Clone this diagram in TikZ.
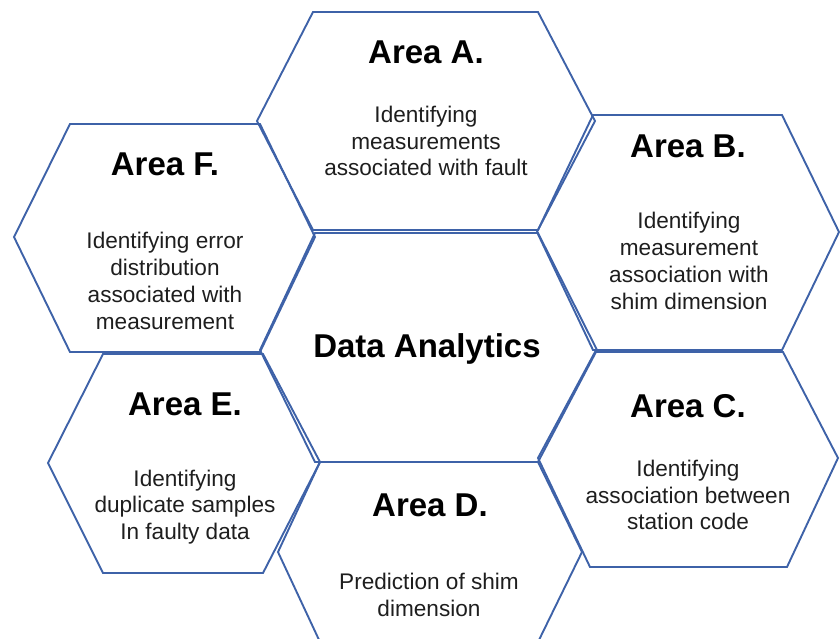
\documentclass[tikz,border=0pt]{standalone}
\usepackage{fontspec}
\setmainfont{Liberation Sans}
\definecolor{hexblue}{RGB}{62,98,168}
\definecolor{txt}{RGB}{30,30,30}
\begin{document}
\begin{tikzpicture}[x=1pt,y=-1pt,
  hexline/.style={draw=hexblue,line width=1.9pt,line join=miter},
  head/.style={font=\fontsize{33}{38}\selectfont\bfseries,text=black,inner sep=0pt},
  body/.style={font=\fontsize{22.6}{26.8}\selectfont,text=txt,align=center,inner sep=0pt}]
\useasboundingbox (0,0) rectangle (840,638);
\begin{scope}
\clip (0,0) rectangle (840,638);
% Area A
\draw[hexline] (313,12) -- (538,12) -- (595,121) -- (538,230) -- (313,230) -- (257,121) -- cycle;
% Area B
\draw[hexline] (593,115) -- (782,115) -- (839,232) -- (782,350) -- (593,350) -- (537,232) -- cycle;
% Area F
\draw[hexline] (70,124) -- (260,124) -- (315,237) -- (260,352) -- (70,352) -- (14,237) -- cycle;
% Center
\draw[hexline] (315,233) -- (538,233) -- (597,350) -- (538,462) -- (315,462) -- (260,350) -- cycle;
% Area E
\draw[hexline] (103,354) -- (263,354) -- (320,462) -- (263,573) -- (103,573) -- (48,463) -- cycle;
% Area C
\draw[hexline] (595,352) -- (783,352) -- (838,458) -- (787,567) -- (590,567) -- (538,458) -- cycle;
% Area D
\draw[hexline] (320,462) -- (538,462) -- (582,552) -- (538,642) -- (320,642) -- (278,552) -- cycle;
\end{scope}
% texts
\node[head] (ha) at (426,52) {Area A.};
\node[body] (ba) at (426,141) {Identifying\\measurements\\associated with fault};
\node[head] (hb) at (688,146) {Area B.};
\node[body] (bb) at (689,261) {Identifying\\measurement\\association with\\shim dimension};
\node[head] (hf) at (165,164) {Area F.};
\node[body] (bf) at (165,281) {Identifying error\\distribution\\associated with\\measurement};
\node[head] (hc) at (427,349) {Data Analytics};
\node[head] (he) at (185,404) {Area E.};
\node[body] (be) at (185,507) {Identifying\\duplicate samples\\In faulty data};
\node[head] (hcc) at (688,406) {Area C.};
\node[body] (bc) at (688,495) {Identifying\\association between\\station code};
\node[head] (hd) at (430,505) {Area D.};
\node[body] (bd) at (429,595) {Prediction of shim\\dimension};
\end{tikzpicture}
\end{document}
